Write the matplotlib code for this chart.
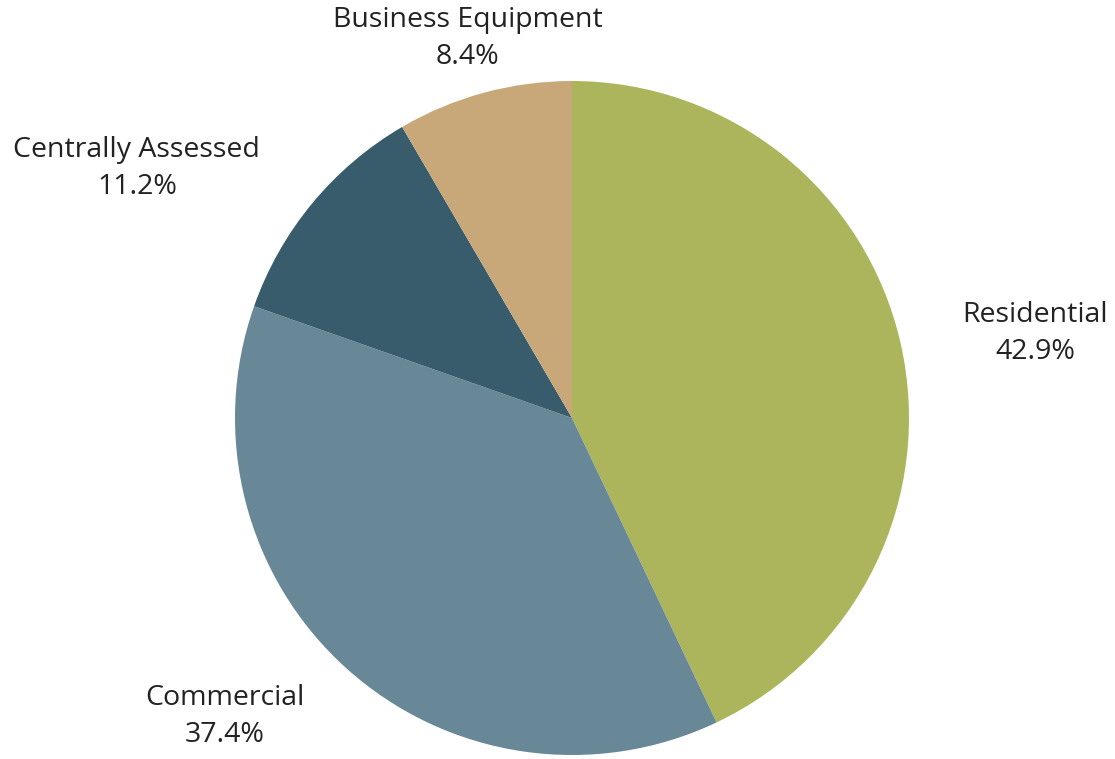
import matplotlib.pyplot as plt

categories = ["Residential", "Commercial", "Centrally Assessed", "Business Equipment"]
shares = [42.9, 37.4, 11.2, 8.4]
pct_labels = ["42.9%", "37.4%", "11.2%", "8.4%"]
colors = ["#ADB55C", "#688797", "#395C6C", "#C8A878"]

# label anchor positions in pie-radius units (pie centred at 0,0)
label_pos = [(1.374, 0.250), (-1.030, -0.886), (-1.291, 0.740), (-0.309, 1.126)]

plt.rcParams['font.family'] = ['Open Sans', 'DejaVu Sans']

fig = plt.figure(figsize=(11.15, 7.59), dpi=100)
ax = fig.add_axes([0, 0, 1, 1])

ax.pie(shares, colors=colors, startangle=90, counterclock=False,
       radius=1.0, wedgeprops=dict(linewidth=0))

for name, pct, (x, y) in zip(categories, pct_labels, label_pos):
    ax.text(x, y, name + "\n" + pct, ha='center', va='center',
            fontsize=20.5, color='#222222', linespacing=1.45)

# axes limits chosen so that one radius is ~337 px
ax.set_xlim(-572 / 337, (1115 - 572) / 337)
ax.set_ylim(-(759 - 418) / 337, 418 / 337)
ax.set_aspect('auto')
ax.axis('off')

fig.savefig("out.png", dpi=100, facecolor='white')
